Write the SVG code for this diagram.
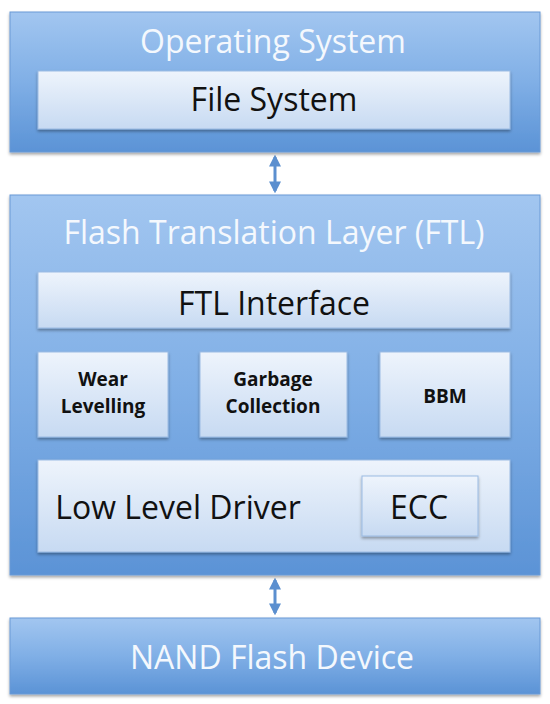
<svg xmlns="http://www.w3.org/2000/svg" width="550" height="704" viewBox="0 0 550 704">
<defs>
<linearGradient id="outer" x1="0" y1="0" x2="0" y2="1">
<stop offset="0" stop-color="#a2c6f0"/>
<stop offset="0.5" stop-color="#80afe6"/>
<stop offset="1" stop-color="#5b93d6"/>
</linearGradient>
<linearGradient id="inner" x1="0" y1="0" x2="0" y2="1">
<stop offset="0" stop-color="#eef4fc"/>
<stop offset="1" stop-color="#c7daf2"/>
</linearGradient>
<filter id="sh" x="-5%" y="-5%" width="110%" height="120%">
<feDropShadow dx="0" dy="2" stdDeviation="1.5" flood-color="#000" flood-opacity="0.35"/>
</filter>
<marker id="ah" viewBox="0 0 10 10" refX="8" refY="5" markerWidth="4" markerHeight="4" orient="auto-start-reverse">
<path d="M0,0 L10,5 L0,10 z" fill="#5b8fcf"/>
</marker>
</defs>
<style>
.outer{fill:url(#outer);stroke:#6a9ad6;stroke-width:1;filter:url(#sh)}
.inner{fill:url(#inner);stroke:#9bbbe3;stroke-width:1;filter:url(#sh)}
.t{font-family:"Open Sans",Lato,"Liberation Sans",sans-serif;text-anchor:middle}
.w{fill:#f4f8fd;font-size:32px}
.k{fill:#111;font-size:32px}
.b{fill:#111;font-size:19px;font-weight:bold}
.conn{stroke:#5b8fcf;stroke-width:3;fill:none}
</style>
<rect width="550" height="704" fill="#fff"/>
<g id="connectors">
<line class="conn" x1="275" y1="157" x2="275" y2="191" marker-start="url(#ah)" marker-end="url(#ah)"/>
<line class="conn" x1="275" y1="580" x2="275" y2="613" marker-start="url(#ah)" marker-end="url(#ah)"/>
</g>
<g id="os">
<rect class="outer" x="10" y="12" width="530" height="140"/>
<text class="t w" x="273" y="53">Operating System</text>
</g>
<g id="fs">
<rect class="inner" x="38" y="71" width="472" height="58"/>
<text class="t k" x="274" y="111">File System</text>
</g>
<g id="ftl">
<rect class="outer" x="10" y="195" width="530" height="380"/>
<text class="t w" x="274" y="244">Flash Translation Layer (FTL)</text>
</g>
<g id="ftl-interface">
<rect class="inner" x="38" y="272" width="472" height="56"/>
<text class="t k" x="274" y="315">FTL Interface</text>
</g>
<g id="wear">
<rect class="inner" x="38" y="352" width="130" height="85"/>
<text class="t b" x="103" y="386">Wear</text>
<text class="t b" x="103" y="413">Levelling</text>
</g>
<g id="gc">
<rect class="inner" x="200" y="352" width="147" height="85"/>
<text class="t b" x="273" y="386">Garbage</text>
<text class="t b" x="273" y="413">Collection</text>
</g>
<g id="bbm">
<rect class="inner" x="380" y="352" width="130" height="85"/>
<text class="t b" x="445" y="403">BBM</text>
</g>
<g id="lld">
<rect class="inner" x="38" y="460" width="472" height="92"/>
<text class="t k" x="178" y="519">Low Level Driver</text>
</g>
<g id="ecc">
<rect class="inner" x="362" y="476" width="116" height="60"/>
<text class="t k" x="419" y="519">ECC</text>
</g>
<g id="nand">
<rect class="outer" x="10" y="618" width="530" height="76"/>
<text class="t w" x="272" y="669">NAND Flash Device</text>
</g>
</svg>
